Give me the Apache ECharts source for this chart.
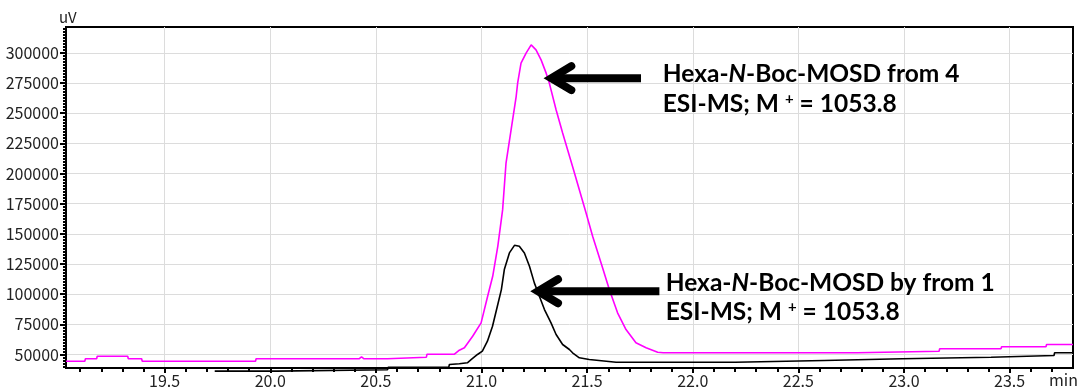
<!DOCTYPE html>
<html><head><meta charset="utf-8">
<script src="https://cdn.jsdelivr.net/npm/echarts@6/dist/echarts.min.js"></script>
<style>html,body{margin:0;padding:0;background:#fff}#c{width:1077px;height:392px}</style>
</head><body><div id="c"></div><script>
// ---- data (retention time in min, signal in uV) ----
const magentaTime = [19.033,19.122,19.125,19.178,19.181,19.325,19.328,19.391,19.394,19.930,19.933,20.420,20.432,20.444,20.555,20.558,20.739,20.742,20.872,20.895,20.919,20.958,20.998,21.029,21.053,21.077,21.100,21.116,21.140,21.164,21.171,21.187,21.211,21.235,21.258,21.282,21.306,21.321,21.353,21.384,21.431,21.495,21.526,21.566,21.605,21.644,21.684,21.731,21.779,21.834,21.860,22.778,22.781,23.166,23.169,23.459,23.462,23.672,23.675,23.800];
const magentaSignal = [44450,44450,46440,46440,48600,48600,46440,46440,44450,44450,46440,46440,48100,46440,46440,47760,47760,50250,50250,53560,55550,65150,76250,98270,114830,139670,170060,208730,236300,263870,274970,291530,299810,306680,302540,294260,283250,274970,252860,233570,205910,167330,147950,125930,103820,84530,70700,59690,55550,51900,51410,51410,52730,52730,54720,54720,56380,56380,58280,58280];
const blackTime = [19.737,20.030,20.033,20.555,20.558,20.845,20.848,20.895,20.933,20.952,20.981,21.004,21.028,21.052,21.075,21.094,21.108,21.132,21.156,21.179,21.203,21.227,21.250,21.274,21.298,21.329,21.353,21.384,21.416,21.431,21.463,21.510,21.637,22.201,22.204,22.622,22.625,22.991,22.994,23.412,23.415,23.710,23.713,23.800];
const blackSignal = [36170,36170,37330,37330,39480,39480,41720,42300,43130,45860,50000,52730,61010,73430,89990,103820,120380,134210,140500,139670,134210,123110,109370,98270,87260,76250,66560,58280,54140,51410,47270,45860,43620,43620,45030,45030,46440,46440,47760,47760,49170,49170,51410,51410];
const xTickValues = [19.5,20.0,20.5,21.0,21.5,22.0,22.5,23.0,23.5];
const xMinorValues = [19.1,19.2,19.3,19.4,19.6,19.7,19.8,19.9,20.1,20.2,20.3,20.4,20.6,20.7,20.8,20.9,21.1,21.2,21.3,21.4,21.6,21.7,21.8,21.9,22.1,22.2,22.3,22.4,22.6,22.7,22.8,22.9,23.1,23.2,23.3,23.4,23.6,23.7];
const yTickValues = [50000,75000,100000,125000,150000,175000,200000,225000,250000,275000,300000];
const yMinorValues = [];
for (let v = 40000; v <= 320000; v += 2500) yMinorValues.push(v);
const xRange = [19.033, 23.8];
const yRange = [38800, 321500];
// annotation anchors (data units)
const arrowTips = [[21.321, 279100], [21.258, 102400]];
const arrowTails = [[21.755, 279100], [21.842, 101000]];
const noteAnchors = [[21.858, 282670], [21.858, 257830], [21.872, 108790], [21.872, 84780]];
const noteLines = [
  '{b|Hexa-}{i|N}{b|-Boc-MOSD from 4}',
  '{b|ESI-MS; M }{s|+}{b| = 1053.8}',
  '{b|Hexa-}{i|N}{b|-Boc-MOSD by from 1}',
  '{b|ESI-MS; M }{s|+}{b| = 1053.8}'
];

const chart = echarts.init(document.getElementById('c'), null, {renderer: 'canvas'});
const tickFont = {fontFamily: "'Noto Sans CJK JP', sans-serif", fontSize: 16, color: '#222'};
const gridLine = {show: true, lineStyle: {color: '#dcdcdc', width: 1}};

chart.setOption({
  animation: false,
  grid: {left: 66, right: 4, top: 27, bottom: 24, show: true, borderColor: '#000', borderWidth: 2, containLabel: false},
  xAxis: [{
    type: 'value', min: xRange[0], max: xRange[1], position: 'bottom',
    axisLine: {show: true, lineStyle: {color: '#000', width: 2}},
    axisTick: {show: true, inside: false, customValues: xTickValues, length: 5, lineStyle: {color: '#000', width: 2}},
    axisLabel: {show: true, customValues: xTickValues, margin: 5, formatter: v => v.toFixed(1), ...tickFont},
    splitLine: gridLine
  }, {
    type: 'value', min: xRange[0], max: xRange[1], position: 'bottom',
    axisLine: {show: true, lineStyle: {color: '#000', width: 2}},
    axisTick: {show: true, inside: false, customValues: xMinorValues, length: 4, lineStyle: {color: '#000', width: 2}},
    axisLabel: {show: false}, splitLine: {show: false}
  }],
  yAxis: [{
    type: 'value', min: yRange[0], max: yRange[1], position: 'left',
    axisLine: {show: true, lineStyle: {color: '#000', width: 2}},
    axisTick: {show: true, inside: false, customValues: yTickValues, length: 6, lineStyle: {color: '#000', width: 2}},
    axisLabel: {show: true, customValues: yTickValues, margin: 7, formatter: v => String(v), ...tickFont},
    splitLine: gridLine
  }, {
    type: 'value', min: yRange[0], max: yRange[1], position: 'left',
    axisLine: {show: true, lineStyle: {color: '#000', width: 2}},
    axisTick: {show: true, inside: false, customValues: yMinorValues, length: 3, lineStyle: {color: '#000', width: 2}},
    axisLabel: {show: false}, splitLine: {show: false}
  }],
  series: [{
    type: 'line', name: 'from 4', xAxisIndex: 0, yAxisIndex: 0, showSymbol: false, clip: false,
    data: magentaTime.map((t, i) => [t, magentaSignal[i]]),
    lineStyle: {color: '#ff00ff', width: 1.6}, itemStyle: {color: '#ff00ff'}, z: 3
  }, {
    type: 'line', name: 'from 1', xAxisIndex: 0, yAxisIndex: 0, showSymbol: false, clip: false,
    data: blackTime.map((t, i) => [t, blackSignal[i]]),
    lineStyle: {color: '#000', width: 1.6}, itemStyle: {color: '#000'}, z: 4
  }]
});

const px = p => chart.convertToPixel({gridIndex: 0}, p);
const graphics = [];
arrowTips.forEach((tipD, k) => {
  const tip = px(tipD), tail = px(arrowTails[k]);
  graphics.push({type: 'line', z: 10, shape: {x1: tip[0] + 6, y1: tip[1], x2: tail[0], y2: tip[1]}, style: {stroke: '#000', lineWidth: 8}});
  graphics.push({type: 'polyline', z: 10, shape: {points: [[tip[0] + 22, tip[1] - 12], [tip[0] + 2, tip[1]], [tip[0] + 22, tip[1] + 12]]},
    style: {stroke: '#000', lineWidth: 8, fill: null, lineCap: 'round', lineJoin: 'miter'}});
});
const rich = {
  b: {fontFamily: 'Lato', fontWeight: 'bold', fontSize: 24.5, color: '#000'},
  i: {fontFamily: 'Lato', fontWeight: 'bold', fontStyle: 'italic', fontSize: 24.5, color: '#000'},
  s: {fontFamily: 'Lato', fontWeight: 'bold', fontSize: 15, color: '#000', verticalAlign: 'top', padding: [0, 0, 8, 0]}
};
noteAnchors.forEach((a, k) => {
  const p = px(a);
  graphics.push({type: 'text', z: 10, x: p[0], y: p[1], style: {text: noteLines[k], rich: rich, align: 'left', verticalAlign: 'middle'}});
});
graphics.push({type: 'text', z: 10, left: 59, top: 10, style: {text: 'uV', fontFamily: tickFont.fontFamily, fontSize: 15, fill: '#222'}});
graphics.push({type: 'text', z: 10, left: 1049, top: 372, style: {text: 'min', fontFamily: tickFont.fontFamily, fontSize: 16, fill: '#222'}});
chart.setOption({graphic: graphics});
</script></body></html>
